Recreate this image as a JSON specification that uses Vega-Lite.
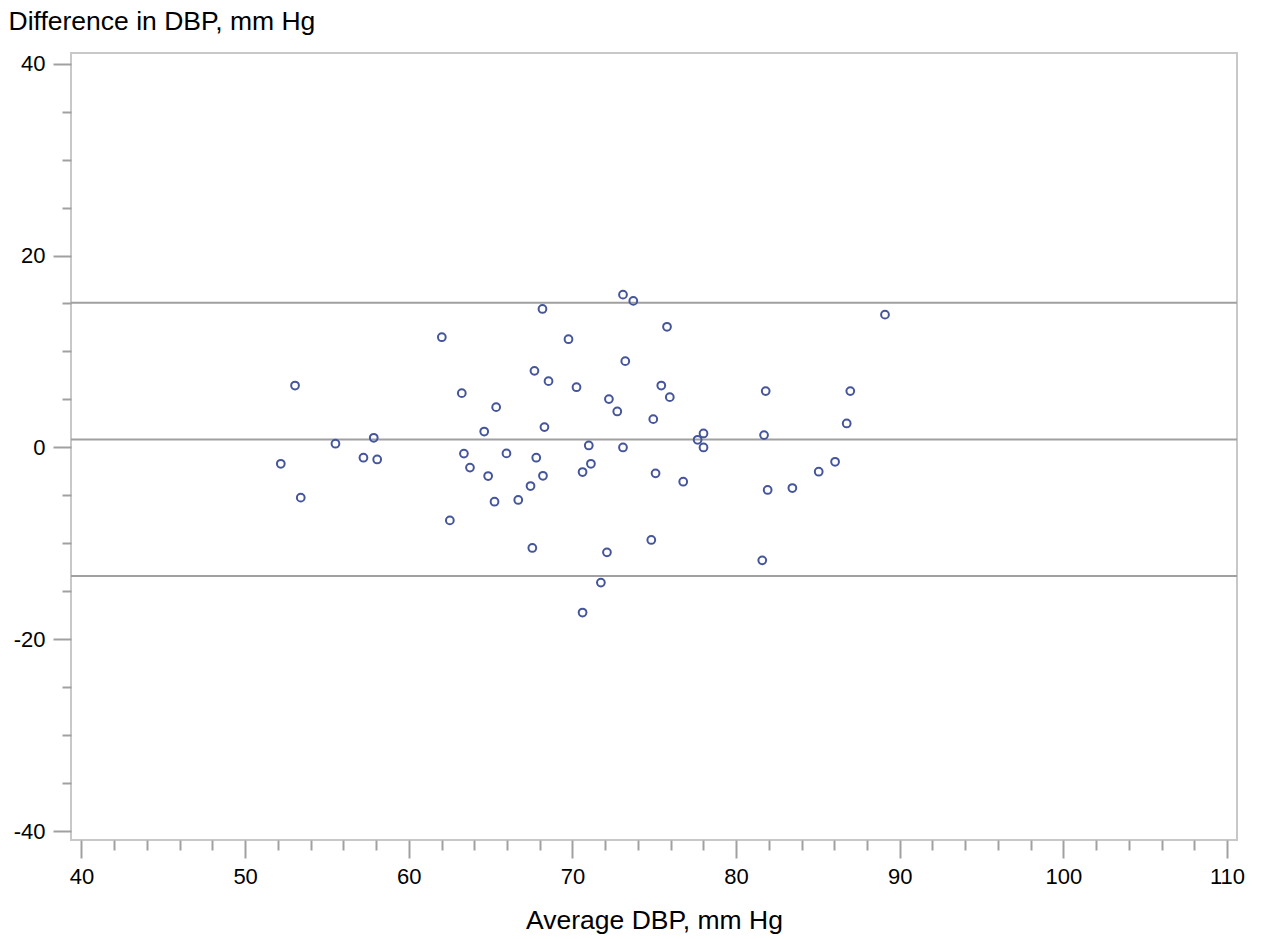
{
  "$schema": "https://vega.github.io/schema/vega-lite/v6.json",
  "autosize": {"type": "none"},
  "padding": {"left": 71, "top": 53, "right": 26, "bottom": 99},
  "width": 1166,
  "height": 787,
  "background": "white",
  "config": {
    "view": {"stroke": "#c8c8c8", "strokeWidth": 2},
    "font": "Liberation Sans"
  },
  "datasets": {
    "points": [
      {"avg": 52.18, "diff": -1.70}, {"avg": 53.05, "diff": 6.45}, {"avg": 53.40, "diff": -5.23},
      {"avg": 55.52, "diff": 0.39}, {"avg": 57.23, "diff": -1.07}, {"avg": 57.86, "diff": 1.01},
      {"avg": 58.07, "diff": -1.25}, {"avg": 62.02, "diff": 11.49}, {"avg": 62.51, "diff": -7.60},
      {"avg": 63.24, "diff": 5.66}, {"avg": 63.37, "diff": -0.64}, {"avg": 63.74, "diff": -2.10},
      {"avg": 64.61, "diff": 1.66}, {"avg": 64.85, "diff": -2.98}, {"avg": 65.24, "diff": -5.65},
      {"avg": 65.34, "diff": 4.20}, {"avg": 65.97, "diff": -0.62}, {"avg": 66.69, "diff": -5.47},
      {"avg": 67.44, "diff": -4.02}, {"avg": 67.55, "diff": -10.47}, {"avg": 67.68, "diff": 7.98},
      {"avg": 67.79, "diff": -1.07}, {"avg": 68.17, "diff": 14.43}, {"avg": 68.20, "diff": -2.95},
      {"avg": 68.29, "diff": 2.12}, {"avg": 68.54, "diff": 6.91}, {"avg": 69.76, "diff": 11.28},
      {"avg": 70.25, "diff": 6.28}, {"avg": 70.62, "diff": -2.56}, {"avg": 70.62, "diff": -17.2},
      {"avg": 71.00, "diff": 0.21}, {"avg": 71.13, "diff": -1.70}, {"avg": 71.74, "diff": -14.08},
      {"avg": 72.11, "diff": -10.93}, {"avg": 72.23, "diff": 5.04}, {"avg": 72.74, "diff": 3.75},
      {"avg": 73.09, "diff": 15.92}, {"avg": 73.09, "diff": 0.0}, {"avg": 73.23, "diff": 8.99},
      {"avg": 73.72, "diff": 15.27}, {"avg": 74.82, "diff": -9.64}, {"avg": 74.94, "diff": 2.95},
      {"avg": 75.08, "diff": -2.70}, {"avg": 75.43, "diff": 6.45}, {"avg": 75.78, "diff": 12.57},
      {"avg": 75.95, "diff": 5.24}, {"avg": 76.77, "diff": -3.57}, {"avg": 77.65, "diff": 0.80},
      {"avg": 78.01, "diff": 1.46}, {"avg": 78.01, "diff": 0.0}, {"avg": 81.60, "diff": -11.76},
      {"avg": 81.71, "diff": 1.29}, {"avg": 81.81, "diff": 5.87}, {"avg": 81.93, "diff": -4.43},
      {"avg": 83.44, "diff": -4.23}, {"avg": 85.05, "diff": -2.53}, {"avg": 86.05, "diff": -1.49},
      {"avg": 86.76, "diff": 2.50}, {"avg": 86.98, "diff": 5.87}, {"avg": 89.10, "diff": 13.84}
    ],
    "lines": [
      {"level": "upper", "diff": 15.09},
      {"level": "mean", "diff": 0.83},
      {"level": "lower", "diff": -13.38}
    ]
  },
  "layer": [
    {
      "data": {"name": "lines"},
      "mark": {"type": "rule", "color": "#a0a0a0", "strokeWidth": 2},
      "encoding": {
        "y": {"field": "diff", "type": "quantitative"}
      }
    },
    {
      "data": {"name": "points"},
      "mark": {"type": "point", "shape": "circle", "filled": false, "color": "#44559b", "size": 60, "strokeWidth": 2, "opacity": 1},
      "encoding": {
        "x": {
          "field": "avg", "type": "quantitative",
          "scale": {"domain": [39.36, 110.61], "nice": false, "zero": false},
          "axis": {
            "title": "Average DBP, mm Hg",
            "values": [40,42,44,46,48,50,52,54,56,58,60,62,64,66,68,70,72,74,76,78,80,82,84,86,88,90,92,94,96,98,100,102,104,106,108,110],
            "labelExpr": "datum.value % 10 === 0 ? '' + datum.value : ''",
            "tickSize": {"condition": {"test": "datum.value % 10 === 0", "value": 18}, "value": 10},
            "tickColor": "#a0a0a0", "tickWidth": 2,
            "domain": false, "grid": false,
            "labelFontSize": 22, "labelColor": "#000", "labelPadding": 8,
            "labelFont": "Liberation Sans",
            "titleFont": "Liberation Sans", "titleFontSize": 26.5, "titleFontWeight": "normal", "titleColor": "#000",
            "titleBaseline": "alphabetic", "titleY": 88
          }
        },
        "y": {
          "field": "diff", "type": "quantitative",
          "scale": {"domain": [-40.9, 41.1], "nice": false, "zero": false},
          "axis": {
            "title": "Difference in DBP, mm Hg",
            "values": [-40,-35,-30,-25,-20,-15,-10,-5,0,5,10,15,20,25,30,35,40],
            "labelExpr": "datum.value % 20 === 0 ? '' + datum.value : ''",
            "tickSize": {"condition": {"test": "datum.value % 20 === 0", "value": 18}, "value": 9},
            "tickColor": "#a0a0a0", "tickWidth": 2,
            "domain": false, "grid": false,
            "labelFontSize": 22, "labelColor": "#000", "labelPadding": 8,
            "labelFont": "Liberation Sans",
            "titleFont": "Liberation Sans", "titleFontSize": 26.5, "titleFontWeight": "normal", "titleColor": "#000",
            "titleAngle": 0, "titleAlign": "left", "titleBaseline": "alphabetic",
            "titleX": -63, "titleY": -24
          }
        }
      }
    }
  ]
}
